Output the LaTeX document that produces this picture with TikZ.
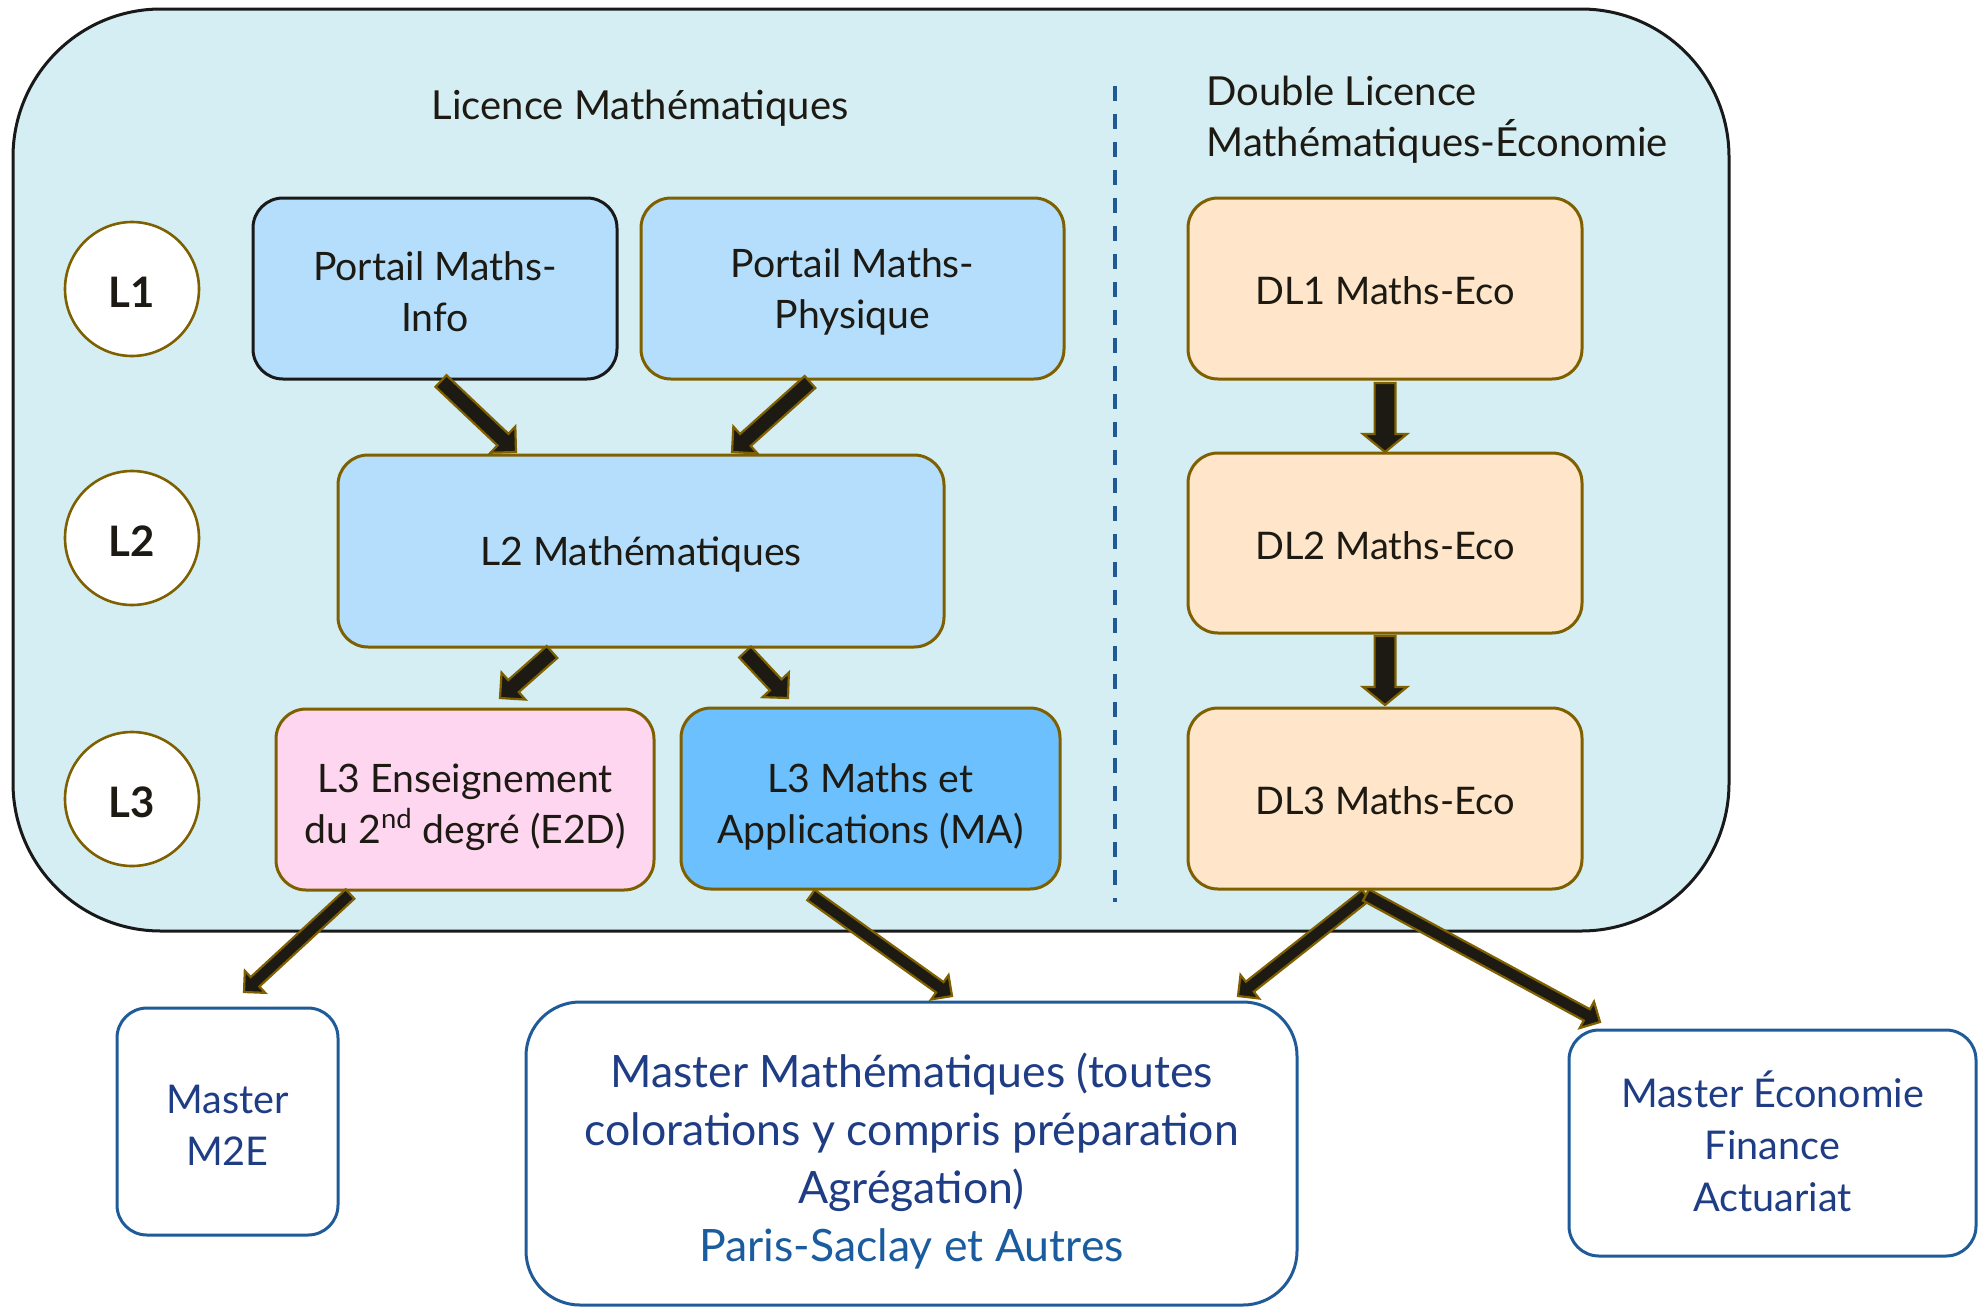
\documentclass[tikz,border=0pt]{standalone}
\usepackage{fontspec}
\setmainfont{Lato}
\usetikzlibrary{calc}
\definecolor{bgc}{HTML}{D5EEF3}
\definecolor{lblue}{HTML}{B4DEFB}
\definecolor{mblue}{HTML}{6DC0FE}
\definecolor{pinkc}{HTML}{FFD6EF}
\definecolor{peach}{HTML}{FFE5C9}
\definecolor{brn}{HTML}{7F6000}
\definecolor{arrf}{HTML}{1C1A12}
\definecolor{txt}{HTML}{1C1A12}
\definecolor{mstroke}{HTML}{1F5B99}
\definecolor{mtext}{HTML}{1F3D85}
\definecolor{mtexttwo}{HTML}{1A5C9E}
\definecolor{dashc}{HTML}{1F5A96}
\newcommand\blkarrow[5]{%
  \coordinate (bh) at ($(#2)!#5!(#1)$);
  \draw[arrowst] ($(#1)!#3!90:(#2)$) -- ($(bh)!#3!90:(#2)$) -- ($(bh)!#4!90:(#2)$) -- (#2) -- ($(bh)!#4!-90:(#2)$) -- ($(bh)!#3!-90:(#2)$) -- ($(#1)!#3!-90:(#2)$) -- cycle;}
\tikzset{
  box/.style={draw=brn, line width=1.5pt, rounded corners=15pt, inner sep=0pt},
  btxt/.style={align=center, text=txt, inner sep=0pt, yshift=-1.6pt, font=\fontsize{19.6}{25.5}\selectfont},
  dtxt/.style={btxt, yshift=0.5pt, font=\fontsize{19}{25.5}\selectfont},
  mbox/.style={draw=mstroke, line width=1.5pt, fill=white, rounded corners=15pt, inner sep=0pt},
  mtxt/.style={align=center, text=mtext, inner sep=0pt, font=\fontsize{19.8}{26}\selectfont},
  lvl/.style={circle, draw=brn, line width=1.3pt, fill=white, minimum size=67pt, inner sep=0pt},
  ltxt/.style={text=txt, inner sep=0pt, yshift=-1.5pt, font=\bfseries\fontsize{21}{25}\selectfont},
  ttl/.style={text=txt, align=left, inner sep=0pt, font=\fontsize{20}{25.5}\selectfont},
  arrowst/.style={fill=arrf, draw=brn, line width=1.1pt, line join=miter},
  outerst/.style={draw=black!90, line width=1.5pt, fill=bgc, rounded corners=74pt, inner sep=0pt},
  sep/.style={draw=dashc, line width=1.6pt, dash pattern=on 7.5pt off 6.5pt}
}
\begin{document}
\begin{tikzpicture}[x=0.5pt,y=-0.5pt]
\useasboundingbox (0,0) rectangle (1986,1307);
% outer frame
\node[outerst, minimum width=858pt, minimum height=461pt] (frame) at (871,470) {};
% separator
\coordinate (septop) at (1115,86);
\coordinate (sepbot) at (1115,902);
\draw[sep] (septop) -- (sepbot);
% titles
\node[ttl, anchor=center] (t1) at (640,108) {Licence Mathématiques};
\node[ttl, anchor=west] (t2) at (1206,120) {Double Licence\\Mathématiques-Économie};
% level circles
\node[lvl, label={[ltxt]center:L1}] (c1) at (132,289) {};
\node[lvl, label={[ltxt]center:L2}] (c2) at (132,538) {};
\node[lvl, label={[ltxt]center:L3}] (c3) at (132,799) {};
% boxes
\node[box, draw=black!90, fill=lblue, minimum width=182pt, minimum height=90.5pt,
  label={[btxt]center:{Portail Maths-\\Info}}] (pmi) at (435,288.5) {};
\node[box, fill=lblue, minimum width=211.5pt, minimum height=90.5pt,
  label={[btxt]center:{Portail Maths-\\Physique}}] (pmp) at (852.5,288.5) {};
\node[box, fill=lblue, minimum width=303pt, minimum height=96pt,
  label={[btxt]center:{L2 Mathématiques}}] (l2) at (641,551) {};
\node[box, fill=pinkc, minimum width=189pt, minimum height=90.5pt,
  label={[btxt, yshift=-2.4pt]center:{L3 Enseignement\\du 2\textsuperscript{nd} degré (E2D)}}] (l3e) at (465,799.5) {};
\node[box, fill=mblue, minimum width=189.5pt, minimum height=90.5pt,
  label={[btxt, yshift=-2.4pt]center:{L3 Maths et\\Applications (MA)}}] (l3ma) at (870.5,798.5) {};
\node[box, fill=peach, minimum width=197pt, minimum height=90.5pt,
  label={[dtxt]center:{DL1 Maths-Eco}}] (dl1) at (1385,288.5) {};
\node[box, fill=peach, minimum width=197pt, minimum height=90pt,
  label={[dtxt]center:{DL2 Maths-Eco}}] (dl2) at (1385,543) {};
\node[box, fill=peach, minimum width=197pt, minimum height=90.5pt,
  label={[dtxt]center:{DL3 Maths-Eco}}] (dl3) at (1385,798.5) {};
% masters
\node[mbox, minimum width=110.5pt, minimum height=113.5pt,
  label={[mtxt, yshift=-2pt]center:{Master\\M2E}}] (m2e) at (227.5,1121.5) {};
\node[mbox, rounded corners=27pt, minimum width=385.5pt, minimum height=151.5pt,
  label={[mtxt, yshift=-3.8pt, font=\fontsize{22.3}{29}\selectfont]center:{Master Mathématiques (toutes\\colorations y compris préparation\\Agrégation)\\\textcolor{mtexttwo}{Paris-Saclay et Autres}}}] (mm) at (911.5,1153.5) {};
\node[mbox, minimum width=203.5pt, minimum height=113pt,
  label={[mtxt, yshift=0.6pt]center:{Master Économie\\Finance\\Actuariat}}] (meco) at (1772.5,1143) {};
% arrow end points
\coordinate (a1s) at (441,381); \coordinate (a1e) at (516,452);
\coordinate (a2s) at (810,382); \coordinate (a2e) at (732,452);
\coordinate (a3s) at (552,652); \coordinate (a3e) at (500,698);
\coordinate (a4s) at (745,652); \coordinate (a4e) at (788,698);
\coordinate (a5s) at (1385,383); \coordinate (a5e) at (1385,452);
\coordinate (a6s) at (1385,636); \coordinate (a6e) at (1385,705);
\coordinate (a7s) at (350,894); \coordinate (a7e) at (244,992);
\coordinate (a8s) at (811,895); \coordinate (a8e) at (952,996);
\coordinate (a9s) at (1366,895); \coordinate (a9e) at (1238,996);
\coordinate (a10e) at (1600,1022);
% arrows
\blkarrow{a1s}{a1e}{4pt}{9pt}{9pt}
\blkarrow{a2s}{a2e}{4pt}{9pt}{9pt}
\blkarrow{a3s}{a3e}{4pt}{9pt}{9pt}
\blkarrow{a4s}{a4e}{4pt}{9pt}{9pt}
\blkarrow{a5s}{a5e}{5.2pt}{11pt}{9pt}
\blkarrow{a6s}{a6e}{5.2pt}{11pt}{9pt}
\blkarrow{a7s}{a7e}{3.2pt}{7.5pt}{7.5pt}
\blkarrow{a8s}{a8e}{3.2pt}{7.5pt}{7.5pt}
\blkarrow{a9s}{a9e}{3.2pt}{7.5pt}{7.5pt}
\blkarrow{a9s}{a10e}{3.2pt}{7.5pt}{7.5pt}
\end{tikzpicture}
\end{document}
